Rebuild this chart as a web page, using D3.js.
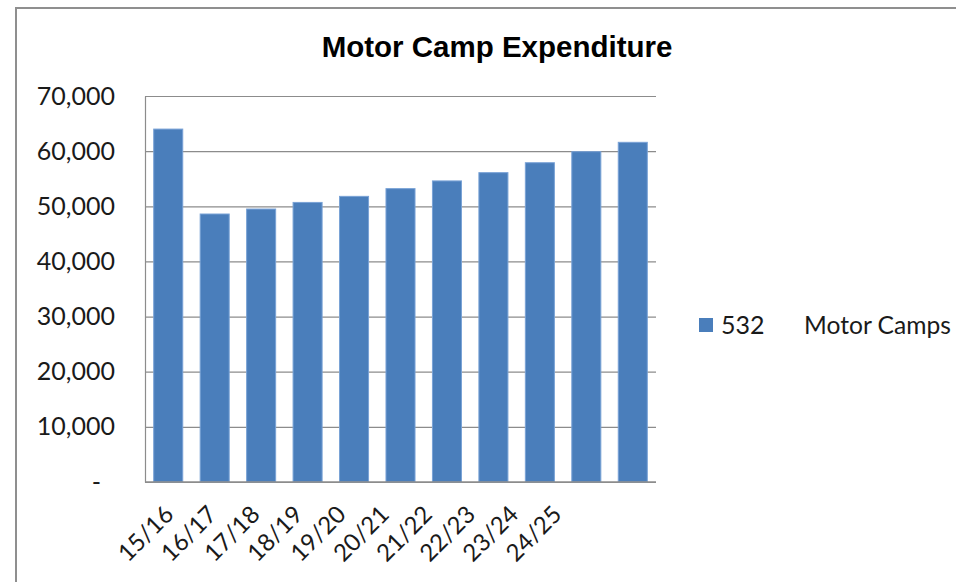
<!DOCTYPE html>
<html>
<head>
<meta charset="utf-8">
<script src="https://cdn.jsdelivr.net/npm/d3@7"></script>
<style>
  body { margin: 0; background: #fff; }
</style>
</head>
<body>
<div id="chart"></div>
<script>
// values
const years = ["15/16", "16/17", "17/18", "18/19", "19/20", "20/21", "21/22", "22/23", "23/24", "24/25"];
const spend = [64000, 48600, 49500, 50700, 51800, 53200, 54600, 56100, 57900, 59900, 61600];
const yTicks = [0, 10000, 20000, 30000, 40000, 50000, 60000, 70000];
const legendCode = "532";
const legendName = "Motor Camps";

const width = 956;
const height = 582;
const plot = { left: 145, right: 656, top: 96, bottom: 482 };

const svg = d3.select("#chart")
    .append("svg")
    .attr("width", width)
    .attr("height", height);

// outer chart frame (only top and left edges are visible)
svg.append("path")
    .attr("d", `M16,${height} V8 H${width}`)
    .attr("fill", "none")
    .attr("stroke", "#8f8f8f")
    .attr("stroke-width", 2);

svg.append("text")
    .attr("x", 497)
    .attr("y", 57)
    .attr("text-anchor", "middle")
    .style("font-family", "'Liberation Sans', Arial, sans-serif")
    .style("font-weight", "bold")
    .style("font-size", "29.5px")
    .text("Motor Camp Expenditure");

const x = d3.scaleBand()
    .domain(d3.range(spend.length))
    .range([plot.left, plot.right])
    .paddingInner(0.375)
    .paddingOuter(0.1875);

const y = d3.scaleLinear()
    .domain([0, 70000])
    .range([plot.bottom, plot.top]);

// gridlines
svg.append("g")
    .attr("transform", `translate(${plot.left},0)`)
    .call(d3.axisLeft(y).tickValues(yTicks).tickSize(-(plot.right - plot.left)).tickFormat(""))
    .call(g => g.select(".domain").remove())
    .call(g => g.selectAll("line").attr("stroke", "#8c8c8c").attr("stroke-width", 1.2));

// y axis labels
const yAxis = svg.append("g")
    .attr("transform", `translate(${plot.left},0)`)
    .call(d3.axisLeft(y).tickValues(yTicks).tickSize(0).tickPadding(30)
        .tickFormat(d => d === 0 ? "-" : d3.format(",")(d)));
yAxis.select(".domain").attr("stroke", "#8c8c8c").attr("stroke-width", 1.2);
yAxis.selectAll("text")
    .style("font-family", "Lato, 'Open Sans', sans-serif")
    .style("font-size", "25px")
    .attr("fill", "#1a1a1a")
    .attr("dx", d => d === 0 ? "-14" : null);

// bars
svg.append("g")
    .selectAll("rect")
    .data(spend)
    .join("rect")
    .attr("x", (d, i) => x(i))
    .attr("y", d => y(d))
    .attr("width", x.bandwidth())
    .attr("height", d => y(0) - y(d))
    .attr("fill", "#4a7ebb")
    .attr("stroke", "#79a2d6")
    .attr("stroke-width", 1);

// x axis line
svg.append("line")
    .attr("x1", plot.left)
    .attr("x2", plot.right)
    .attr("y1", y(0))
    .attr("y2", y(0))
    .attr("stroke", "#8c8c8c")
    .attr("stroke-width", 1.5);

// category labels (Excel spaced them a little tighter than the bars)
const xLab = d3.scalePoint()
    .domain(years)
    .range([175, 563]);

svg.append("g")
    .selectAll("text")
    .data(years)
    .join("text")
    .attr("transform", d => `translate(${xLab(d)},516) rotate(-45)`)
    .attr("text-anchor", "end")
    .style("font-family", "Lato, 'Open Sans', sans-serif")
    .style("font-size", "24px")
    .attr("fill", "#1a1a1a")
    .text(d => d);

// legend
const legend = svg.append("g");
legend.append("rect")
    .attr("x", 699)
    .attr("y", 318)
    .attr("width", 14)
    .attr("height", 14)
    .attr("fill", "#4a7ebb");
legend.append("text")
    .attr("x", 721)
    .attr("y", 334)
    .style("font-family", "Lato, 'Open Sans', sans-serif")
    .style("font-size", "25px")
    .attr("fill", "#1a1a1a")
    .text(legendCode);
legend.append("text")
    .attr("x", 804)
    .attr("y", 334)
    .style("font-family", "Lato, 'Open Sans', sans-serif")
    .style("font-size", "24.6px")
    .attr("fill", "#1a1a1a")
    .text(legendName);
</script>
</body>
</html>
